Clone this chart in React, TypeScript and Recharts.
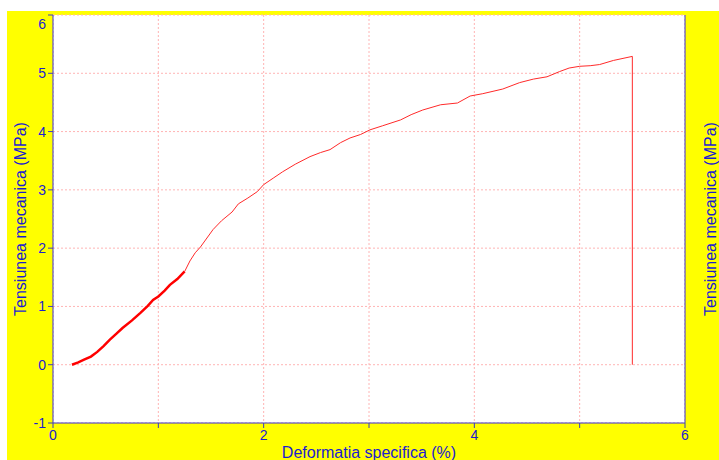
import { LineChart, Line, XAxis, YAxis, CartesianGrid, Label } from 'recharts'

// early, densely sampled part of the curve (drawn thicker)
const lowStrain = [0.18, 0.24, 0.3, 0.36, 0.42, 0.48, 0.54, 0.6, 0.66, 0.75, 0.83, 0.9, 0.95, 1.0, 1.06, 1.11, 1.18, 1.25]
const lowStress = [0.0, 0.04, 0.09, 0.14, 0.22, 0.32, 0.43, 0.53, 0.63, 0.76, 0.89, 1.01, 1.11, 1.17, 1.27, 1.37, 1.47, 1.6]

// rest of the curve up to failure, then the drop
const highStrain = [1.25, 1.3, 1.35, 1.4, 1.52, 1.6, 1.7, 1.76, 1.85, 1.94, 2.0, 2.09, 2.18, 2.3, 2.44, 2.54, 2.63, 2.73, 2.82, 2.92, 3.01, 3.13, 3.3, 3.4, 3.51, 3.68, 3.84, 3.96, 4.08, 4.27, 4.43, 4.56, 4.69, 4.81, 4.9, 5.0, 5.1, 5.19, 5.32, 5.5, 5.5]
const highStress = [1.6, 1.78, 1.92, 2.02, 2.32, 2.47, 2.62, 2.76, 2.86, 2.97, 3.09, 3.2, 3.31, 3.44, 3.57, 3.64, 3.69, 3.81, 3.89, 3.95, 4.03, 4.1, 4.2, 4.29, 4.37, 4.46, 4.49, 4.61, 4.65, 4.73, 4.84, 4.9, 4.94, 5.03, 5.09, 5.12, 5.13, 5.15, 5.22, 5.29, 0.0]

const xTicks = [0, 1, 2, 3, 4, 5, 6]
const yTicks = [-1, 0, 1, 2, 3, 4, 5, 6]

const lowData = lowStrain.map((x, i) => ({ x, y: lowStress[i] }))
const highData = highStrain.map((x, i) => ({ x, y: highStress[i] }))

const BLUE = '#1c1cd0'
const AXIS = '#3c3cc0'
const tickStyle = { fontSize: 14, fill: BLUE }

// top label sits a little below its tick so it stays inside the frame
function YTick(props: any) {
  const { x, y, payload, textAnchor } = props
  const shift = payload.value === 6 ? 4 : 0
  return (
    <text x={x} y={y + shift} dy="0.355em" textAnchor={textAnchor} fontSize={14} fill={BLUE}>
      {payload.value}
    </text>
  )
}

export default function App() {
  return (
    <div
      style={{
        position: 'absolute',
        left: 7,
        top: 11,
        width: 712,
        height: 449,
        background: '#ffff00',
        fontFamily: '"Liberation Sans", Arial, sans-serif',
      }}
    >
      <LineChart width={712} height={449} margin={{ top: 4, right: 0, left: 0, bottom: 0 }} style={{ overflow: 'visible' }}>
        <CartesianGrid yAxisId="left" fill="#ffffff" stroke="#ffb4b4" strokeDasharray="2 2" />
        <XAxis
          dataKey="x"
          type="number"
          domain={[0, 6]}
          ticks={xTicks}
          tickFormatter={(v: number) => (v % 2 === 0 ? String(v) : '')}
          allowDuplicatedCategory={false}
          height={37}
          tick={tickStyle}
          tickSize={5}
          axisLine={{ stroke: AXIS }}
          tickLine={{ stroke: AXIS }}
        >
          <Label value="Deformatia specifica (%)" position="insideBottom" offset={2} style={{ fontSize: 16, fill: BLUE }} />
        </XAxis>
        <XAxis
          xAxisId="top"
          orientation="top"
          type="number"
          domain={[0, 6]}
          height={0}
          tick={false}
          tickLine={false}
          axisLine={{ stroke: AXIS }}
        />
        <YAxis
          yAxisId="left"
          type="number"
          domain={[-1, 6]}
          ticks={yTicks}
          width={46}
          tick={<YTick />}
          tickSize={5}
          axisLine={{ stroke: AXIS }}
          tickLine={{ stroke: AXIS }}
        >
          <Label value="Tensiunea mecanica (MPa)" angle={-90} position="center" dx={-10} style={{ fontSize: 16, fill: BLUE, textAnchor: 'middle' }} />
        </YAxis>
        <YAxis
          yAxisId="right"
          orientation="right"
          type="number"
          domain={[-1, 6]}
          ticks={yTicks}
          width={34}
          tick={<YTick />}
          tickSize={5}
          axisLine={{ stroke: AXIS }}
          tickLine={{ stroke: AXIS }}
        >
          <Label value="Tensiunea mecanica (MPa)" angle={-90} position="center" dx={8} style={{ fontSize: 16, fill: BLUE, textAnchor: 'middle' }} />
        </YAxis>
        <Line
          yAxisId="left"
          data={lowData}
          dataKey="y"
          type="linear"
          stroke="#ff0000"
          strokeWidth={2.5}
          dot={false}
          isAnimationActive={false}
        />
        <Line
          yAxisId="left"
          data={highData}
          dataKey="y"
          type="linear"
          stroke="#ff2a2a"
          strokeWidth={1}
          dot={false}
          isAnimationActive={false}
        />
      </LineChart>
    </div>
  )
}
